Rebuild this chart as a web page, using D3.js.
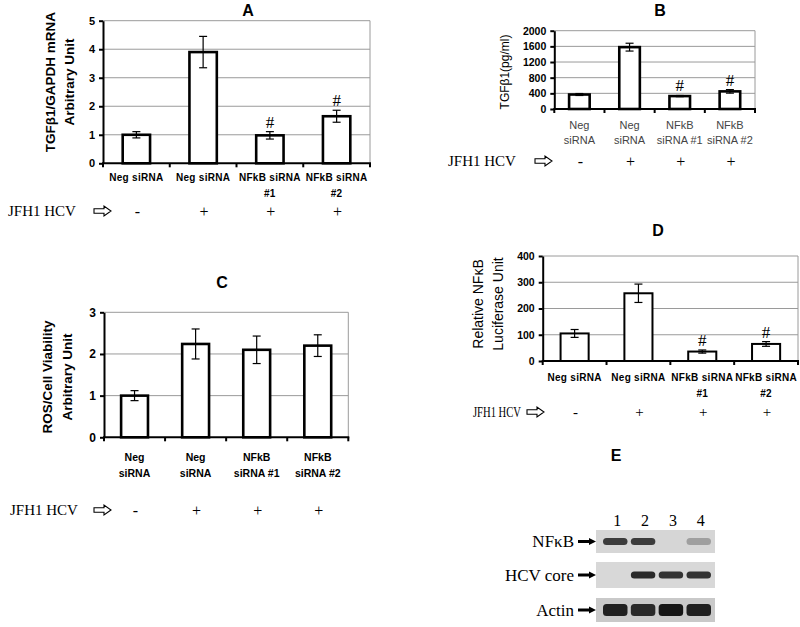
<!DOCTYPE html>
<html>
<head>
<meta charset="utf-8">
<title>TGFb1 / NFkB siRNA panels</title>
<script src="https://d3js.org/d3.v7.min.js"></script>
<style>
  body { margin: 0; background: #fff; }
  svg { display: block; }
</style>
</head>
<body>
<svg id="fig" width="800" height="627"></svg>
<script>
// ---- data ----
var hcvStatus = ["-", "+", "+", "+"];

// A: TGFb1/GAPDH mRNA
var aLine1 = ["Neg siRNA", "Neg siRNA", "NFkB siRNA", "NFkB siRNA"];
var aLine2 = ["", "", "#1", "#2"];
var aValues = [1.0, 3.9, 0.98, 1.65];
var aErrors = [0.11, 0.55, 0.13, 0.21];
var aHash = [false, false, true, true];
var aTicks = [0, 1, 2, 3, 4, 5];

// B: TGFb1 protein (pg/ml)
var bLine1 = ["Neg", "Neg", "NFkB", "NFkB"];
var bLine2 = ["siRNA", "siRNA", "siRNA #1", "siRNA #2"];
var bValues = [370, 1580, 330, 450];
var bErrors = [25, 100, 15, 45];
var bHash = [false, false, true, true];
var bTicks = [0, 400, 800, 1200, 1600, 2000];

// C: ROS / cell viability
var cLine1 = ["Neg", "Neg", "NFkB", "NFkB"];
var cLine2 = ["siRNA", "siRNA", "siRNA #1", "siRNA #2"];
var cValues = [1.0, 2.24, 2.1, 2.2];
var cErrors = [0.12, 0.36, 0.33, 0.26];
var cHash = [false, false, false, false];
var cTicks = [0, 1, 2, 3];

// D: NFkB luciferase
var dLine1 = ["Neg siRNA", "Neg siRNA", "NFkB siRNA", "NFkB siRNA"];
var dLine2 = ["", "", "#1", "#2"];
var dValues = [105, 258, 36, 65];
var dErrors = [15, 35, 6, 9];
var dHash = [false, false, true, true];
var dTicks = [0, 100, 200, 300, 400];

// E: western blot (band darkness per lane, 0 = none)
var lanes = ["1", "2", "3", "4"];
var blotRows = ["NF\u03baB", "HCV core", "Actin"];
var blotDark = [
  [0.80, 0.80, 0.00, 0.28],
  [0.00, 0.90, 0.85, 0.85],
  [0.95, 0.90, 1.00, 0.95]
];

var sans = "'Liberation Sans', Arial, sans-serif";
var serif = "'Liberation Serif', 'Times New Roman', serif";
var svg = d3.select("#fig");

function hollowArrow(g, x, y) {
  g.append("path")
    .attr("d", "M0,-2.2 L10,-2.2 L10,-5 L17,0 L10,5 L10,2.2 L0,2.2 Z")
    .attr("transform", "translate(" + x + "," + y + ")")
    .attr("fill", "#fff").attr("stroke", "#000").attr("stroke-width", 1.1);
}

function barPanel(o) {
  var g = svg.append("g");
  var x = d3.scaleBand().domain(d3.range(o.values.length)).range([o.x0, o.x1]);
  var y = d3.scaleLinear().domain([0, o.max]).range([o.yb, o.yt]);
  var bw = x.bandwidth() * o.barFrac;

  // grid + frame
  g.selectAll(".grid").data(o.ticks.filter(function (t) { return t > 0; }))
    .enter().append("line")
    .attr("x1", o.x0).attr("x2", o.x1)
    .attr("y1", function (d) { return y(d); }).attr("y2", function (d) { return y(d); })
    .attr("stroke", "#9a9a9a").attr("stroke-width", 1);
  g.append("line").attr("x1", o.x1).attr("x2", o.x1).attr("y1", o.yt).attr("y2", o.yb)
    .attr("stroke", "#9a9a9a").attr("stroke-width", 1);

  // bars
  g.selectAll(".bar").data(o.values).enter().append("rect")
    .attr("x", function (d, i) { return x(i) + (x.bandwidth() - bw) / 2; })
    .attr("y", function (d) { return y(d); })
    .attr("width", bw)
    .attr("height", function (d) { return y(0) - y(d); })
    .attr("fill", "#fff").attr("stroke", "#000").attr("stroke-width", o.barStroke);

  // error bars
  var eb = g.selectAll(".err").data(o.values).enter().append("g")
    .attr("transform", function (d, i) { return "translate(" + (x(i) + x.bandwidth() / 2) + ",0)"; });
  eb.append("line").attr("x1", 0).attr("x2", 0)
    .attr("y1", function (d, i) { return y(d + o.errors[i]); })
    .attr("y2", function (d, i) { return y(d - o.errors[i]); })
    .attr("stroke", "#000").attr("stroke-width", 1.2);
  eb.append("line").attr("x1", -4).attr("x2", 4)
    .attr("y1", function (d, i) { return y(d + o.errors[i]); })
    .attr("y2", function (d, i) { return y(d + o.errors[i]); })
    .attr("stroke", "#000").attr("stroke-width", 1.2);
  eb.append("line").attr("x1", -4).attr("x2", 4)
    .attr("y1", function (d, i) { return y(d - o.errors[i]); })
    .attr("y2", function (d, i) { return y(d - o.errors[i]); })
    .attr("stroke", "#000").attr("stroke-width", 1.2);
  eb.filter(function (d, i) { return o.hash[i]; }).append("text")
    .attr("y", function (d) { return y(d + o.errors[o.values.indexOf(d)]) - 4; })
    .attr("text-anchor", "middle")
    .style("font-family", serif).style("font-size", "17px")
    .text("#");

  // left axis
  var ya = g.append("g").attr("transform", "translate(" + o.x0 + ",0)")
    .call(d3.axisLeft(y).tickValues(o.ticks).tickFormat(d3.format("d"))
      .tickSize(4).tickSizeOuter(0).tickPadding(4));
  ya.select(".domain").attr("stroke", "#000").attr("stroke-width", 2);
  ya.selectAll(".tick line").attr("stroke", "#000").attr("stroke-width", 2);
  ya.selectAll(".tick text").style("font-family", sans).style("font-size", o.tickFont)
    .style("font-weight", "bold").attr("fill", "#000");

  // bottom axis with ticks at band edges
  var edges = x.domain().map(function (d) { return x(d); }).concat([o.x1]);
  g.append("line").attr("x1", o.x0 - 1).attr("x2", o.x1 + 1).attr("y1", o.yb).attr("y2", o.yb)
    .attr("stroke", "#000").attr("stroke-width", 2);
  g.selectAll(".xt").data(edges).enter().append("line")
    .attr("x1", function (d) { return d; }).attr("x2", function (d) { return d; })
    .attr("y1", o.yb).attr("y2", o.yb + 4)
    .attr("stroke", "#000").attr("stroke-width", 2);

  // category labels
  [o.line1, o.line2].forEach(function (lines, k) {
    g.selectAll(".cl" + k).data(lines).enter().append("text")
      .attr("x", function (d, i) { return x(i) + x.bandwidth() / 2; })
      .attr("y", o.catY[k])
      .attr("text-anchor", "middle").attr("dominant-baseline", "central")
      .style("font-family", sans).style("font-size", o.catFont)
      .style("font-weight", o.catBold ? "bold" : "normal")
      .style("letter-spacing", o.catSpacing || "0px")
      .attr("fill", o.catColor || "#000")
      .text(function (d) { return d; });
  });

  // JFH1 HCV row
  var hl = g.append("text").attr("x", o.hcvX).attr("y", o.hcvY).attr("dominant-baseline", "central")
    .style("font-family", serif).style("font-size", o.hcvFont).text("JFH1 HCV");
  if (o.hcvLen) hl.attr("textLength", o.hcvLen).attr("lengthAdjust", "spacingAndGlyphs");
  hollowArrow(g, o.arrowX, o.hcvY);
  g.selectAll(".hcv").data(hcvStatus).enter().append("text")
    .attr("x", function (d, i) { return x(i) + x.bandwidth() / 2 + 1; })
    .attr("y", o.hcvY)
    .attr("text-anchor", "middle").attr("dominant-baseline", "central")
    .style("font-family", serif).style("font-size", o.signFont)
    .text(function (d) { return d; });

  // y label (rotated lines)
  o.ylab.forEach(function (t, k) {
    g.append("text")
      .attr("transform", "translate(" + o.ylabX[k] + "," + o.ylabY + ") rotate(-90)")
      .attr("text-anchor", "middle").attr("dominant-baseline", "central")
      .style("font-family", sans).style("font-size", o.ylabFont)
      .style("font-weight", o.ylabBold ? "bold" : "normal")
      .text(t);
  });

  // panel letter
  g.append("text").attr("x", o.title[1]).attr("y", o.title[2])
    .attr("text-anchor", "middle").attr("dominant-baseline", "central")
    .style("font-family", sans).style("font-size", "16px").style("font-weight", "bold")
    .text(o.title[0]);
}

barPanel({
  values: aValues, errors: aErrors, hash: aHash, ticks: aTicks, max: 5,
  line1: aLine1, line2: aLine2,
  x0: 103, x1: 370, yt: 20.7, yb: 163.3, barFrac: 0.41, barStroke: 2.6,
  tickFont: "11px", catFont: "10px", catBold: true, catSpacing: "0.3px", catY: [177, 193],
  hcvX: 8, hcvY: 211, arrowX: 94, hcvFont: "15px", signFont: "16px",
  ylab: ["TGF\u03b21/GAPDH mRNA", "Arbitrary Unit"], ylabX: [50, 69], ylabY: 82,
  ylabFont: "13.5px", ylabBold: true, title: ["A", 248, 10]
});

barPanel({
  values: bValues, errors: bErrors, hash: bHash, ticks: bTicks, max: 2000,
  line1: bLine1, line2: bLine2,
  x0: 554.3, x1: 755, yt: 30.7, yb: 109, barFrac: 0.41, barStroke: 2.6,
  tickFont: "10.5px", catFont: "11px", catBold: false, catColor: "#444", catY: [125, 140],
  hcvX: 448, hcvY: 161, arrowX: 535, hcvFont: "15px", signFont: "16px",
  ylab: ["TGF\u03b21(pg/ml)"], ylabX: [505], ylabY: 72,
  ylabFont: "12px", ylabBold: false, title: ["B", 660, 10]
});

barPanel({
  values: cValues, errors: cErrors, hash: cHash, ticks: cTicks, max: 3,
  line1: cLine1, line2: cLine2,
  x0: 104, x1: 348.3, yt: 312.3, yb: 437.3, barFrac: 0.44, barStroke: 2.6,
  tickFont: "12px", catFont: "10.5px", catBold: true, catY: [457, 473],
  hcvX: 10, hcvY: 510, arrowX: 94, hcvFont: "15px", signFont: "16px",
  ylab: ["ROS/Cell Viability", "Arbitrary Unit"], ylabX: [47, 67], ylabY: 377,
  ylabFont: "13.5px", ylabBold: true, title: ["C", 222, 282]
});

barPanel({
  values: dValues, errors: dErrors, hash: dHash, ticks: dTicks, max: 400,
  line1: dLine1, line2: dLine2,
  x0: 542.7, x1: 798, yt: 256, yb: 361, barFrac: 0.44, barStroke: 2,
  tickFont: "10.5px", catFont: "10px", catBold: true, catSpacing: "0.3px", catY: [377, 393],
  hcvX: 473, hcvY: 412, arrowX: 527, hcvFont: "14px", hcvLen: 48, signFont: "15px",
  ylab: ["Relative NF\u03baB", "Luciferase Unit"], ylabX: [478, 498], ylabY: 304,
  ylabFont: "14px", ylabBold: false, title: ["D", 658, 230]
});

// ---- panel E: blot ----
(function () {
  var g = svg.append("g");
  var lx = d3.scaleBand().domain(lanes).range([603, 711]).paddingInner(0.12);
  var rowY = d3.scaleOrdinal().domain(blotRows).range([[530, 553], [562, 588], [598, 622]]);
  var rowBg = ["#d6d6d6", "#d8d8d8", "#c9c9c9"];
  var shade = d3.scaleLinear().domain([0, 1]).range(["#d4d4d4", "#161616"]);

  g.append("text").attr("x", 616).attr("y", 455).attr("text-anchor", "middle")
    .attr("dominant-baseline", "central")
    .style("font-family", sans).style("font-size", "16px").style("font-weight", "bold").text("E");

  g.selectAll(".lane").data(lanes).enter().append("text")
    .attr("x", function (d) { return lx(d) + lx.bandwidth() / 2 + 2; })
    .attr("y", 520).attr("text-anchor", "middle").attr("dominant-baseline", "central")
    .style("font-family", serif).style("font-size", "16px")
    .text(function (d) { return d; });

  blotRows.forEach(function (r, ri) {
    var yy = rowY(r);
    var h = yy[1] - yy[0];
    var cy = (yy[0] + yy[1]) / 2;
    var bands = blotDark[ri].map(function (v, i) { return { v: v, lane: lanes[i] }; })
      .filter(function (d) { return d.v > 0; });
    g.append("rect").attr("x", 596).attr("y", yy[0]).attr("width", 119).attr("height", h)
      .attr("fill", rowBg[ri]);
    g.selectAll(".band" + ri).data(bands).enter().append("rect")
      .attr("x", function (d) { return lx(d.lane); })
      .attr("y", cy - (ri === 2 ? 6 : 3.5))
      .attr("width", lx.bandwidth())
      .attr("height", ri === 2 ? 12 : 7)
      .attr("rx", 3.5)
      .attr("fill", function (d) { return shade(d.v); });

    g.append("text").attr("x", 574).attr("y", cy).attr("text-anchor", "end")
      .attr("dominant-baseline", "central")
      .style("font-family", serif).style("font-size", "17px").text(r);
    g.append("line").attr("x1", 578).attr("x2", 590).attr("y1", cy).attr("y2", cy)
      .attr("stroke", "#000").attr("stroke-width", 3);
    g.append("path").attr("d", "M589," + (cy - 3.5) + " L596," + cy + " L589," + (cy + 3.5) + " Z")
      .attr("fill", "#000");
  });
})();
</script>
</body>
</html>
